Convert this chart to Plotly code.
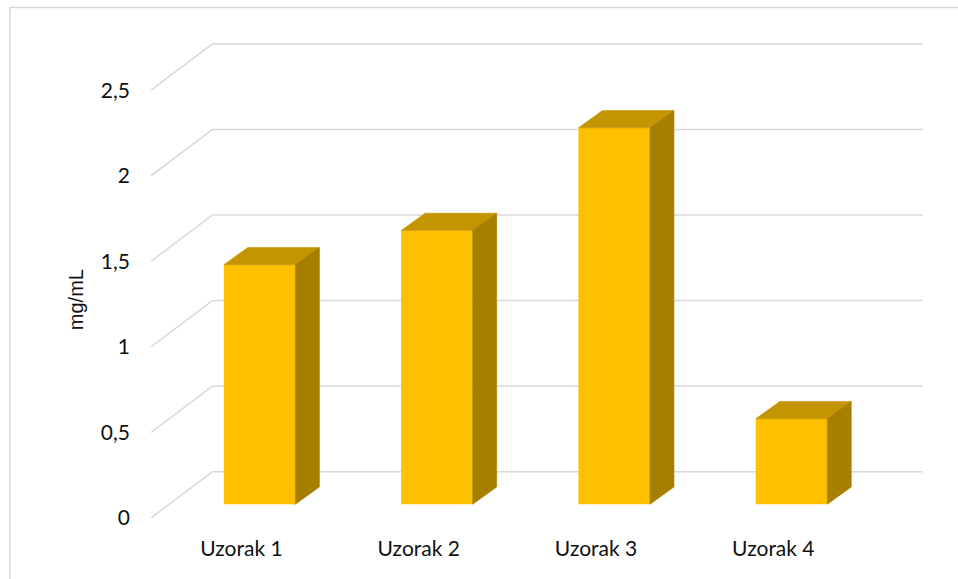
import plotly.graph_objects as go

# Data
categories = ["Uzorak 1", "Uzorak 2", "Uzorak 3", "Uzorak 4"]
values = [1.4, 1.6, 2.2, 0.5]
y_ticks = [0, 0.5, 1, 1.5, 2, 2.5]

# Colours of the 3D column faces
FRONT = "#FFC000"
TOP = "#C49500"
SIDE = "#A67E00"
GRID = "#D9D9D9"

# Pixel geometry of the plot area (used to turn the pseudo-3D offsets into data units)
W, H = 958, 579
L_PX, R_PX, T_PX, B_PX = 151, 923, 40, 517.7
PX_PER_X = 177.3          # pixels per category step
PX_PER_Y = 171.0          # pixels per 1 mg/mL

x0 = -0.51
x_range = [x0, x0 + (R_PX - L_PX) / PX_PER_X]
y_range = [0, (B_PX - T_PX) / PX_PER_Y]

# Depth of the back wall and of the columns, in data units
wall_dx, wall_dy = 61.5 / PX_PER_X, 46.3 / PX_PER_Y
bar_shift_x, bar_shift_y = 18.2 / PX_PER_X, 13.7 / PX_PER_Y
bar_dx, bar_dy = 24.0 / PX_PER_X, 17.3 / PX_PER_Y
bar_w = 71.5 / PX_PER_X

xs = list(range(len(categories)))

fig = go.Figure()

# Column front faces
fig.add_trace(go.Bar(
    x=[i + bar_shift_x for i in xs],
    y=values,
    base=bar_shift_y,
    width=bar_w,
    marker=dict(color=FRONT, line=dict(width=0)),
    hoverinfo="skip",
    showlegend=False,
))

# Column top and side faces
for i, v in zip(xs, values):
    xl = i + bar_shift_x - bar_w / 2
    xr = i + bar_shift_x + bar_w / 2
    b = bar_shift_y
    t = v + bar_shift_y
    fig.add_trace(go.Scatter(
        x=[xl, xr, xr + bar_dx, xl + bar_dx, xl],
        y=[t, t, t + bar_dy, t + bar_dy, t],
        fill="toself", fillcolor=TOP, mode="lines",
        line=dict(width=0.6, color=TOP), hoverinfo="skip", showlegend=False,
    ))
    fig.add_trace(go.Scatter(
        x=[xr, xr + bar_dx, xr + bar_dx, xr, xr],
        y=[b, b + bar_dy, t + bar_dy, t, b],
        fill="toself", fillcolor=SIDE, mode="lines",
        line=dict(width=0.6, color=SIDE), hoverinfo="skip", showlegend=False,
    ))

# Side-wall and back-wall gridlines
shapes = []
x_back_right = x_range[1] - 0.002
for v in y_ticks:
    shapes.append(dict(type="line", xref="x", yref="y", layer="below",
                       x0=x0, y0=v, x1=x0 + wall_dx, y1=v + wall_dy,
                       line=dict(color=GRID, width=1.5)))
    shapes.append(dict(type="line", xref="x", yref="y", layer="below",
                       x0=x0 + wall_dx, y0=v + wall_dy, x1=x_back_right, y1=v + wall_dy,
                       line=dict(color=GRID, width=1.5)))

# Chart-area border
pw, ph = R_PX - L_PX, B_PX - T_PX
shapes.append(dict(type="rect", xref="paper", yref="paper", layer="below",
                   x0=(10 - L_PX) / pw, x1=(970 - L_PX) / pw,
                   y0=(B_PX - 590) / ph, y1=(B_PX - 7.5) / ph,
                   line=dict(color=GRID, width=1.5), fillcolor="rgba(0,0,0,0)"))

label_font = dict(family="Lato", size=21, color="#111111")

fig.update_layout(
    width=W, height=H,
    margin=dict(l=L_PX, r=W - R_PX, t=T_PX, b=H - B_PX, pad=0),
    paper_bgcolor="white", plot_bgcolor="white",
    separators=", ",
    shapes=shapes,
    showlegend=False,
    xaxis=dict(
        range=x_range, tickvals=xs, ticktext=categories,
        showgrid=False, zeroline=False, showline=False, ticks="",
        tickfont=label_font, ticklabelstandoff=16, fixedrange=True,
    ),
    yaxis=dict(
        range=y_range, tickvals=y_ticks,
        showgrid=False, zeroline=False, showline=False, ticks="",
        tickfont=label_font, ticklabelstandoff=20, fixedrange=True,
    ),
    annotations=[dict(
        text="mg/mL", textangle=-90, showarrow=False,
        xref="paper", yref="paper",
        x=(76 - L_PX) / pw, y=(B_PX - 300) / ph,
        xanchor="center", yanchor="middle",
        font=dict(family="Liberation Sans", size=20, color="#111111"),
    )],
)

fig.write_html("out.html")
